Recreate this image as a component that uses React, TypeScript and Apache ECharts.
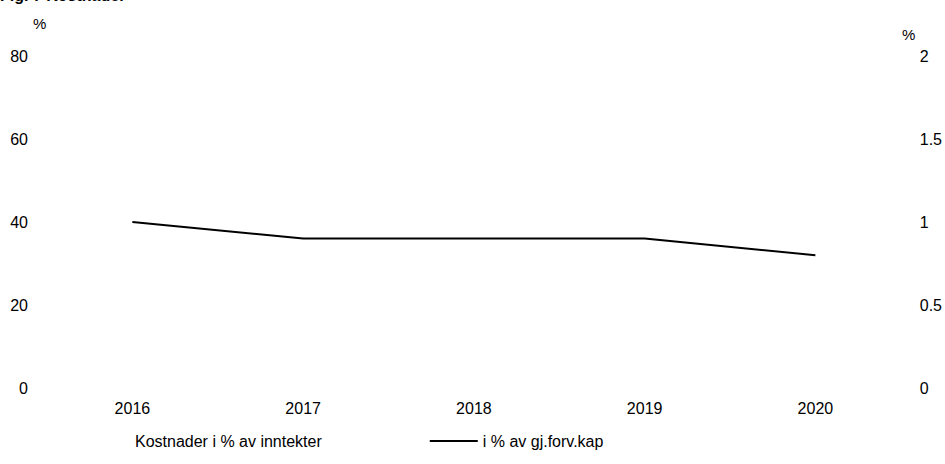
import React, { useEffect, useRef } from "react";
import * as echarts from "echarts";

const categories = ["2016", "2017", "2018", "2019", "2020"];
const kostnaderInntekter: (number | null)[] = [null, null, null, null, null];
const kostnaderForvKap = [1.0, 0.9, 0.9, 0.9, 0.8];
const leftTicks = [0, 20, 40, 60, 80];
const rightTicks = [0, 0.5, 1, 1.5, 2];

const FONT = "'Liberation Sans', Arial, sans-serif";
const FS = 16;

export default function App() {
  const ref = useRef<HTMLDivElement>(null);
  useEffect(() => {
    if (!ref.current) return;
    const chart = echarts.init(ref.current, null, { renderer: "svg" });
    chart.setOption({
      animation: false,
      backgroundColor: "#ffffff",
      textStyle: { fontFamily: FONT, color: "#000" },
      graphic: [
        {
          type: "text",
          left: 0,
          top: -13,
          style: { text: "Fig. 7 Kostnader", font: `bold 16px ${FONT}`, fill: "#000" },
        },
        {
          type: "text",
          left: 33,
          top: 16,
          style: { text: "%", font: `15px ${FONT}`, fill: "#000" },
        },
        {
          type: "text",
          left: 902,
          top: 27,
          style: { text: "%", font: `15px ${FONT}`, fill: "#000" },
        },
      ],
      grid: { left: 47, right: 43, top: 56, bottom: 76, containLabel: false },
      legend: {
        bottom: 10,
        left: 77,
        itemGap: 108,
        itemWidth: 48,
        itemHeight: 2,
        textStyle: { fontFamily: FONT, fontSize: FS, color: "#000" },
        data: [
          { name: "Kostnader i % av inntekter", icon: "none" },
          { name: "i % av gj.forv.kap", icon: "rect", itemStyle: { color: "#000" } },
        ],
      },
      xAxis: {
        type: "category",
        data: categories,
        boundaryGap: true,
        axisLine: { show: false },
        axisTick: { show: false },
        axisLabel: { color: "#000", fontSize: FS, fontFamily: FONT, margin: 12 },
      },
      yAxis: [
        {
          type: "value",
          min: leftTicks[0],
          max: leftTicks[leftTicks.length - 1],
          interval: 20,
          splitLine: { show: false },
          axisLine: { show: false },
          axisTick: { show: false },
          axisLabel: { color: "#000", fontSize: FS, fontFamily: FONT, margin: 19 },
        },
        {
          type: "value",
          min: rightTicks[0],
          max: rightTicks[rightTicks.length - 1],
          interval: 0.5,
          splitLine: { show: false },
          axisLine: { show: false },
          axisTick: { show: false },
          axisLabel: { color: "#000", fontSize: FS, fontFamily: FONT, margin: 19 },
        },
      ],
      series: [
        {
          name: "Kostnader i % av inntekter",
          type: "bar",
          yAxisIndex: 0,
          data: kostnaderInntekter,
          itemStyle: { color: "#ffffff" },
        },
        {
          name: "i % av gj.forv.kap",
          type: "line",
          yAxisIndex: 1,
          data: kostnaderForvKap,
          symbol: "none",
          lineStyle: { color: "#000", width: 2 },
          itemStyle: { color: "#000" },
        },
      ],
    });
    return () => chart.dispose();
  }, []);
  return <div ref={ref} style={{ width: 945, height: 464, position: "absolute", left: 0, top: 0 }} />;
}
